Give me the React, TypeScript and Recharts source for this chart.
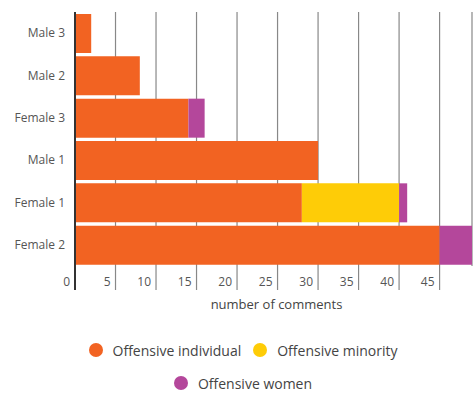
import React from 'react';
import { BarChart, Bar, XAxis, YAxis, CartesianGrid, Legend } from 'recharts';

const people = ['Male 3', 'Male 2', 'Female 3', 'Male 1', 'Female 1', 'Female 2'];
const individual = [2, 8, 14, 30, 28, 45];
const minority = [0, 0, 0, 0, 12, 0];
const women = [0, 0, 2, 0, 1, 4];
const xTicks = [0, 5, 10, 15, 20, 25, 30, 35, 40, 45];

const series = [
    { key: 'individual', name: 'Offensive individual', color: '#F26322' },
    { key: 'minority', name: 'Offensive minority', color: '#FECC07' },
    { key: 'women', name: 'Offensive women', color: '#B4479B' },
];

const data = people.map((name, i) => ({
    name,
    individual: individual[i],
    minority: minority[i],
    women: women[i],
}));

const FONT = '"Open Sans", sans-serif';

const XTick = (props: any) => {
    const { x, y, payload } = props;
    const zero = payload.value === 0;
    return (
        <g>
            <line
                x1={x}
                x2={x}
                y1={y - 24}
                y2={y}
                stroke={zero ? '#333' : '#888'}
                strokeWidth={zero ? 2 : 1.2}
            />
            <text x={x - 5} y={y - 4} textAnchor="end" fontSize={12} fill="#555" fontFamily={FONT}>
                {payload.value}
            </text>
        </g>
    );
};

const LegendBox = () => (
    <div
        style={{
            width: 320,
            height: 80,
            display: 'flex',
            flexWrap: 'wrap',
            justifyContent: 'center',
            alignContent: 'flex-start',
            columnGap: 12,
            rowGap: 13,
            paddingTop: 26,
            boxSizing: 'border-box',
            fontFamily: FONT,
            fontSize: 14,
            color: '#444',
        }}
    >
        {series.map((s) => (
            <div key={s.key} style={{ display: 'flex', alignItems: 'center', height: 20 }}>
                <span
                    style={{
                        width: 14,
                        height: 14,
                        borderRadius: '50%',
                        background: s.color,
                        display: 'inline-block',
                        marginRight: 10,
                    }}
                />
                <span>{s.name}</span>
            </div>
        ))}
    </div>
);

export default function App() {
    return (
        <div style={{ position: 'absolute', left: 0, top: 0, background: '#fff' }}>
            <BarChart
                width={473}
                height={394}
                data={data}
                layout="vertical"
                margin={{ top: 12, right: 1, bottom: 0, left: 0 }}
            >
                <CartesianGrid horizontal={false} stroke="#888" strokeWidth={1.2} />
                <XAxis
                    type="number"
                    domain={[0, 'dataMax']}
                    ticks={xTicks}
                    height={48}
                    tickSize={24}
                    tickMargin={0}
                    tickLine={false}
                    axisLine={false}
                    tick={<XTick />}
                    label={{
                        value: 'number of comments',
                        position: 'insideBottom',
                        offset: 5,
                        dx: 3,
                        fontSize: 13,
                        fill: '#444',
                        fontFamily: FONT,
                    }}
                />
                <YAxis
                    type="category"
                    dataKey="name"
                    width={75}
                    tickSize={8}
                    tickMargin={2}
                    tickLine={false}
                    axisLine={{ stroke: '#333', strokeWidth: 2 }}
                    tick={{ fontSize: 12, fill: '#555', fontFamily: FONT }}
                />
                {series.map((s) => (
                    <Bar
                        key={s.key}
                        dataKey={s.key}
                        name={s.name}
                        stackId="a"
                        fill={s.color}
                        barSize={39}
                        isAnimationActive={false}
                    />
                ))}
                <Legend
                    verticalAlign="bottom"
                    content={<LegendBox />}
                    wrapperStyle={{ left: 83, width: 320, height: 80 }}
                />
            </BarChart>
        </div>
    );
}
